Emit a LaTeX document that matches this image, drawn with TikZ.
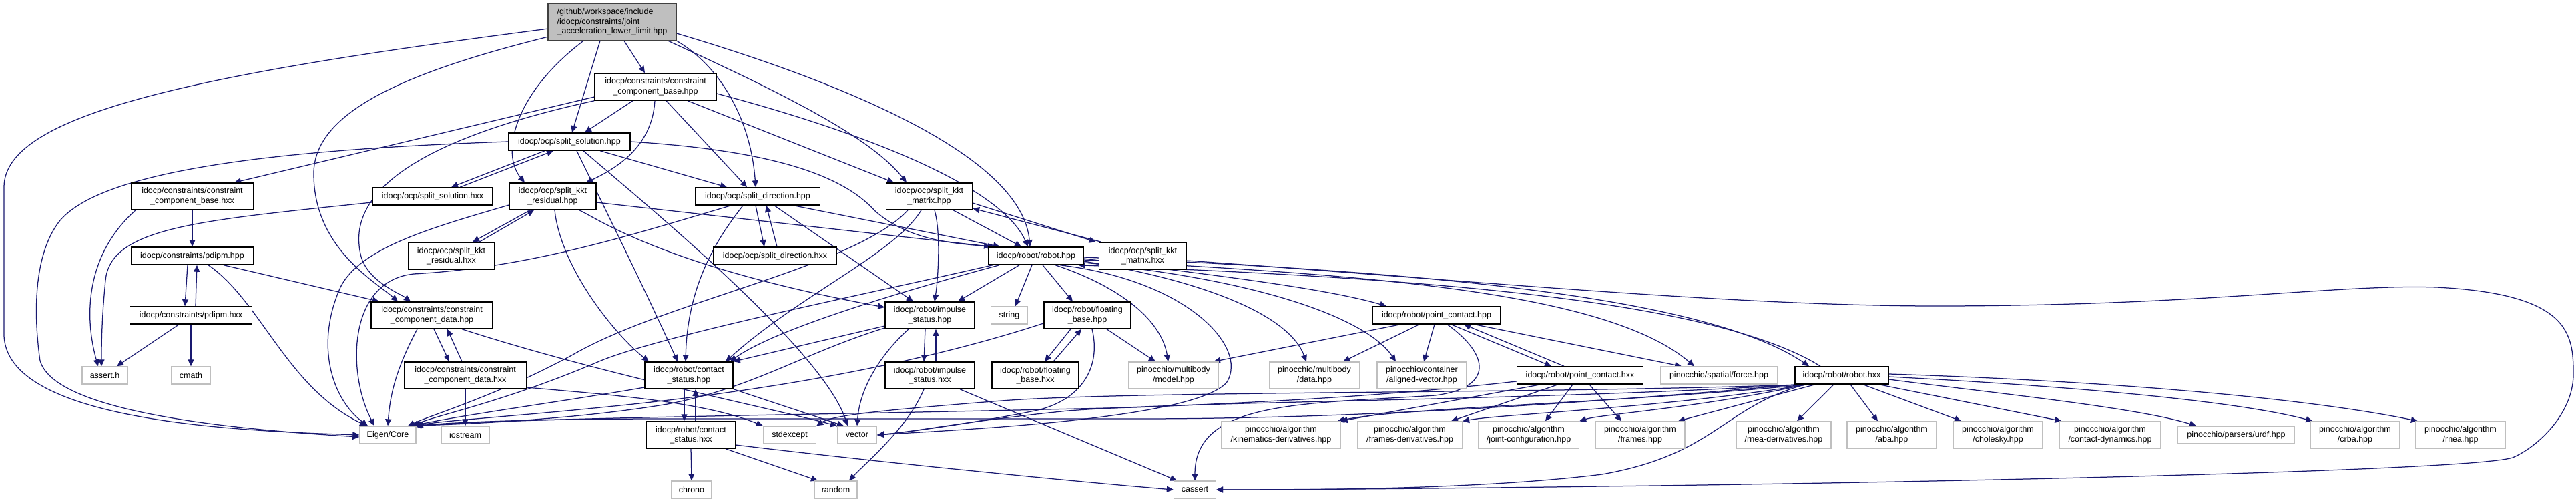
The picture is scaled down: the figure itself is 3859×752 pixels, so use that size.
\documentclass[tikz,border=0pt]{standalone}
\usepackage{fontspec}
\setmainfont{Liberation Sans}
\usetikzlibrary{arrows.meta}
\definecolor{edgeblue}{HTML}{191970}
\definecolor{extgray}{HTML}{BFBFBF}
\definecolor{rootfill}{HTML}{BFBFBF}
\definecolor{rootdraw}{HTML}{404040}
\pgfdeclarelayer{bg}
\pgfsetlayers{bg,main}
\newcommand{\nf}{\fontsize{12.5}{14.5}\selectfont}
\tikzset{
 base/.style={rectangle, inner sep=0pt, font=\nf, align=center},
 proj/.style={base, draw=black, fill=white, line width=1.5pt, minimum height=26pt},
 ext/.style={base, draw=extgray, fill=white, line width=1.3pt, minimum height=26pt},
 rootbox/.style={base, draw=rootdraw, fill=rootfill, line width=1.5pt, minimum height=55pt, align=left},
 two/.style={minimum height=40pt},
 e/.style={draw=edgeblue, line width=1.25pt, -{Triangle[length=10pt,width=9pt]}}
}
\begin{document}
\begin{tikzpicture}[x=1pt,y=-1pt]
\useasboundingbox (0,0) rectangle (3859,752);
% nodes
\node[rootbox, minimum width=192pt] (R) at (917,33) {/github/workspace/include\\/idocp/constraints/joint\\\_acceleration\_lower\_limit.hpp};
\node[proj,two,minimum width=182pt] (CBH) at (982,130) {idocp/constraints/constraint\\\_component\_base.hpp};
\node[proj,minimum width=182pt] (SSH) at (853,212) {idocp/ocp/split\_solution.hpp};
\node[proj,two,minimum width=183pt] (CBX) at (288,294) {idocp/constraints/constraint\\\_component\_base.hxx};
\node[proj,minimum width=180pt] (SSX) at (648,294) {idocp/ocp/split\_solution.hxx};
\node[proj,two,minimum width=130pt] (KRH) at (828,294) {idocp/ocp/split\_kkt\\\_residual.hpp};
\node[proj,minimum width=187pt] (SDH) at (1135,294) {idocp/ocp/split\_direction.hpp};
\node[proj,two,minimum width=129pt] (KMH) at (1392,294) {idocp/ocp/split\_kkt\\\_matrix.hpp};
\node[proj,two,minimum width=129pt] (KRX) at (676,383) {idocp/ocp/split\_kkt\\\_residual.hxx};
\node[proj,minimum width=184pt] (SDX) at (1161,383) {idocp/ocp/split\_direction.hxx};
\node[proj,minimum width=142pt] (RBH) at (1552,383) {idocp/robot/robot.hpp};
\node[proj,two,minimum width=131pt] (KMX) at (1712,383) {idocp/ocp/split\_kkt\\\_matrix.hxx};
\node[proj,minimum width=183pt] (PDH) at (288,383) {idocp/constraints/pdipm.hpp};
\node[proj,two,minimum width=182pt] (CDH) at (647,472) {idocp/constraints/constraint\\\_component\_data.hpp};
\node[proj,minimum width=183pt] (PDX) at (286,472) {idocp/constraints/pdipm.hxx};
\node[proj,two,minimum width=134pt] (ISH) at (1393,472) {idocp/robot/impulse\\\_status.hpp};
\node[ext,minimum width=55pt] (STR) at (1512,472) {string};
\node[proj,two,minimum width=130pt] (FBH) at (1629,472) {idocp/robot/floating\\\_base.hpp};
\node[proj,minimum width=192pt] (PCH) at (2152,472) {idocp/robot/point\_contact.hpp};
\node[ext,minimum width=68pt] (AST) at (157,562) {assert.h};
\node[ext,minimum width=59pt] (CMA) at (286,562) {cmath};
\node[proj,two,minimum width=183pt] (CDX) at (697,562) {idocp/constraints/constraint\\\_component\_data.hxx};
\node[proj,two,minimum width=132pt] (CSH) at (1032,562) {idocp/robot/contact\\\_status.hpp};
\node[proj,two,minimum width=134pt] (ISX) at (1393,562) {idocp/robot/impulse\\\_status.hxx};
\node[proj,two,minimum width=130pt] (FBX) at (1551,562) {idocp/robot/floating\\\_base.hxx};
\node[ext,two,minimum width=135pt] (MOD) at (1758,562) {pinocchio/multibody\\/model.hpp};
\node[ext,two,minimum width=135pt] (DAT) at (1969,562) {pinocchio/multibody\\/data.hpp};
\node[ext,two,minimum width=134pt] (ALV) at (2130,562) {pinocchio/container\\/aligned-vector.hpp};
\node[proj,minimum width=189pt] (PCX) at (2367,562) {idocp/robot/point\_contact.hxx};
\node[ext,minimum width=175pt] (FRC) at (2575,562) {pinocchio/spatial/force.hpp};
\node[proj,minimum width=140pt] (RBX) at (2759,562) {idocp/robot/robot.hxx};
\node[ext,minimum width=84pt] (EIG) at (581,651) {Eigen/Core};
\node[ext,minimum width=72pt] (IOS) at (697,651) {iostream};
\node[proj,two,minimum width=133pt] (CSX) at (1035,651) {idocp/robot/contact\\\_status.hxx};
\node[ext,minimum width=79pt] (SEX) at (1183,651) {stdexcept};
\node[ext,minimum width=59pt] (VEC) at (1284,651) {vector};
\node[ext,two,minimum width=178pt] (KIN) at (1919,651) {pinocchio/algorithm\\/kinematics-derivatives.hpp};
\node[ext,two,minimum width=157pt] (FRD) at (2112,651) {pinocchio/algorithm\\/frames-derivatives.hpp};
\node[ext,two,minimum width=151pt] (JCF) at (2290,651) {pinocchio/algorithm\\/joint-configuration.hpp};
\node[ext,two,minimum width=134pt] (FRM) at (2457,651) {pinocchio/algorithm\\/frames.hpp};
\node[ext,two,minimum width=142pt] (RND) at (2672,651) {pinocchio/algorithm\\/rnea-derivatives.hpp};
\node[ext,two,minimum width=134pt] (ABA) at (2834,651) {pinocchio/algorithm\\/aba.hpp};
\node[ext,two,minimum width=134pt] (CHO) at (2993,651) {pinocchio/algorithm\\/cholesky.hpp};
\node[ext,two,minimum width=152pt] (CDY) at (3161,651) {pinocchio/algorithm\\/contact-dynamics.hpp};
\node[ext,minimum width=175pt] (URD) at (3350,651) {pinocchio/parsers/urdf.hpp};
\node[ext,two,minimum width=134pt] (CRB) at (3528,651) {pinocchio/algorithm\\/crba.hpp};
\node[ext,two,minimum width=135pt] (RNE) at (3686,651) {pinocchio/algorithm\\/rnea.hpp};
\node[ext,minimum width=60pt] (CHR) at (1036,733) {chrono};
\node[ext,minimum width=64pt] (RAN) at (1252,733) {random};
\node[ext,minimum width=63pt] (CAS) at (1790,733) {cassert};

\begin{pgfonlayer}{bg}
% root
\draw[e] (R.186) .. controls (300,110) and (6,170) .. (6,280) -- (6,500) .. controls (6,630) and (350,645) .. (EIG.west);
\draw[e] (R.193) .. controls (600,110) and (470,170) .. (470,260) .. controls (470,370) and (560,420) .. ([xshift=-51pt]CDH.north);
\draw[e] ([xshift=-43pt]R.south) .. controls (770,140) and (750,230) .. ([xshift=-42pt]KRH.north);
\draw[e] ([xshift=-18pt]R.south) -- ([xshift=4pt]SSH.north);
\draw[e] ([xshift=18pt]R.south) -- ([xshift=-16pt]CBH.north);
\draw[e] ([xshift=84pt]R.south) .. controls (1150,130) and (1300,200) .. ([xshift=-34pt]KMH.north);
\draw[e] (R.south east) .. controls (1080,100) and (1125,180) .. ([xshift=-3pt]SDH.north);
\draw[e] (R.-10) .. controls (1250,120) and (1530,230) .. ([xshift=-9pt]RBH.north);
% CBH
\draw[e] ([yshift=-15pt]CBH.west) -- ([xshift=63pt]CBX.north);
\draw[e] (CBH.south west) .. controls (620,210) and (520,290) .. (540,380) .. controls (548,420) and (600,440) .. ([xshift=-32pt]CDH.north);
\draw[e] ([xshift=-34pt]CBH.south) -- ([xshift=23pt]SSH.north);
\draw[e] ([xshift=-1pt]CBH.south) .. controls (978,200) and (950,240) .. ([xshift=50pt]KRH.north);
\draw[e] ([xshift=16pt]CBH.south) -- ([xshift=-16pt]SDH.north);
\draw[e] ([xshift=48pt]CBH.south) -- ([xshift=-53pt]KMH.north);
\draw[e] ([yshift=-10pt]CBH.east) .. controls (1300,200) and (1500,280) .. ([xshift=-12pt]RBH.north);
% SSH
\draw[e] (SSH.west) .. controls (380,225) and (150,260) .. (90,330) .. controls (50,380) and (50,470) .. (60,540) .. controls (80,610) and (300,640) .. ([yshift=-3pt]EIG.west);
\draw[e] ([xshift=-37pt]SSH.south) -- ([xshift=28pt]SSX.north);
\draw[e] ([xshift=41pt]SSX.north) -- ([xshift=-24pt]SSH.south);
\draw[e] ([xshift=11pt]SSH.south) .. controls (900,300) and (960,420) .. ([xshift=-17pt]CSH.north);
\draw[e] ([xshift=21pt]SSH.south) .. controls (960,300) and (1230,520) .. ([xshift=-14pt]VEC.north);
\draw[e] ([xshift=46pt]SSH.south) -- ([xshift=-46pt]SDH.north);
\draw[e] (SSH.east) .. controls (1150,225) and (1260,260) .. (1310,315) .. controls (1360,360) and (1430,365) .. ([xshift=-62pt]RBH.north);
% CBX, SSX
\draw[e] (CBX.south) -- (PDH.north);
\draw[e] ([xshift=-85pt]CBX.south) .. controls (130,380) and (125,470) .. ([xshift=-10pt]AST.north);
\draw[e] ([yshift=-9pt]SSX.west) .. controls (300,330) and (165,340) .. (158,420) .. controls (152,480) and (152,520) .. ([xshift=-5pt]AST.north);
% KRH
\draw[e] ([xshift=-34pt]KRH.south) -- ([xshift=32pt]KRX.north);
\draw[e] ([xshift=42pt]KRX.north) -- ([xshift=-28pt]KRH.south);
\draw[e] ([yshift=-13pt]KRH.west) .. controls (650,340) and (540,370) .. (510,430) .. controls (470,520) and (500,600) .. ([xshift=-30pt]EIG.north);
\draw[e] ([xshift=3pt]KRH.south) .. controls (840,400) and (920,500) .. ([xshift=-60pt]CSH.north);
\draw[e] ([xshift=40pt]KRH.south) .. controls (900,330) and (1000,400) .. ([yshift=12pt]ISH.west);
\draw[e] ([yshift=-9pt]KRH.east) -- ([xshift=-68pt]RBH.north);
% SDH
\draw[e] ([xshift=-3pt]SDH.south) -- ([xshift=-16pt]SDX.north);
\draw[e] ([xshift=3pt]SDX.north) -- ([xshift=13pt]SDH.south);
\draw[e] ([xshift=-40pt]SDH.south) .. controls (950,350) and (800,400) .. (620,410) .. controls (520,420) and (520,560) .. ([xshift=-20pt]EIG.north);
\draw[e] ([xshift=-22pt]SDH.south) .. controls (1080,350) and (1030,420) .. ([xshift=-5pt]CSH.north);
\draw[e] ([xshift=25pt]SDH.south) -- ([xshift=-25pt]ISH.north);
\draw[e] ([xshift=54pt]SDH.south) -- ([xshift=-54pt]RBH.north);
% KMH, KMX
\draw[e] ([yshift=-10pt]KMH.east) -- ([xshift=-4pt]KMX.north west);
\draw[e] ([xshift=4pt]KMX.north west) -- ([yshift=-18pt]KMH.east);
\draw[e] ([xshift=-32pt]KMH.south) .. controls (1280,400) and (1000,450) .. (860,530) .. controls (750,590) and (650,620) .. ([xshift=30pt]EIG.north);
\draw[e] ([xshift=-12pt]KMH.south) .. controls (1340,380) and (1200,440) .. ([xshift=55pt]CSH.north);
\draw[e] ([xshift=8pt]KMH.south) .. controls (1410,350) and (1405,420) .. ([xshift=7pt]ISH.north);
\draw[e] ([xshift=36pt]KMH.south) -- ([xshift=-22pt]RBH.north);
\draw[e] ([yshift=-7pt]KMX.east) .. controls (2200,420) and (2600,458) .. (2900,458) .. controls (3300,458) and (3500,425) .. (3650,430) .. controls (3850,440) and (3855,500) .. (3855,560) .. controls (3855,620) and (3800,670) .. (3764,685) .. controls (3700,705) and (2900,722) .. (2400,728) .. controls (2100,732) and (1900,733) .. (CAS.east);
% RBH
\draw[e] ([xshift=-65pt]RBH.south) .. controls (1300,440) and (1000,500) .. (900,540) .. controls (760,600) and (660,620) .. ([xshift=36pt]EIG.north);
\draw[e] ([xshift=-55pt]RBH.south) .. controls (1300,450) and (1150,500) .. ([xshift=62pt]CSH.north);
\draw[e] ([xshift=-25pt]RBH.south) -- ([xshift=42pt]ISH.north);
\draw[e] ([xshift=-6pt]RBH.south) -- ([xshift=9pt]STR.north);
\draw[e] ([xshift=10pt]RBH.south) -- ([xshift=-22pt]FBH.north);
\draw[e] ([xshift=29pt]RBH.south) .. controls (1680,430) and (1740,480) .. ([xshift=-8pt]MOD.north);
\draw[e] ([xshift=36pt]RBH.south) .. controls (1780,420) and (1870,520) .. (1838,572) .. controls (1790,630) and (1400,645) .. (VEC.east);
\draw[e] ([yshift=-4pt]RBH.east) .. controls (1800,410) and (1980,430) .. ([xshift=-75pt]PCH.north);
\draw[e] ([yshift=-8pt]RBH.east) .. controls (1800,420) and (1930,470) .. ([xshift=-12pt]DAT.north);
\draw[e] ([yshift=-10pt]RBH.east) .. controls (1900,420) and (2050,480) .. ([xshift=-39pt]ALV.north);
\draw[e] ([yshift=-6pt]RBH.east) .. controls (2000,410) and (2400,430) .. ([xshift=-37pt]FRC.north);
\draw[e] ([yshift=-2pt]RBH.east) .. controls (2100,405) and (2550,440) .. ([xshift=-49pt]RBX.north);
\draw[e] ([xshift=-32pt]RBX.north) .. controls (2560,445) and (2100,415) .. ([xshift=-8pt]RBH.south east);
% FBH
\draw[e] ([xshift=-25pt]FBH.south) -- ([xshift=14pt]FBX.north);
\draw[e] ([xshift=27pt]FBX.north) -- ([xshift=-9pt]FBH.south);
\draw[e] ([xshift=29pt]FBH.south) -- ([xshift=-27pt]MOD.north);
\draw[e] ([xshift=7pt]FBH.south) .. controls (1650,550) and (1620,600) .. (1550,615) .. controls (1450,635) and (1350,648) .. (VEC.east);
\draw[e] ([yshift=-12pt]FBH.west) .. controls (1300,570) and (1000,600) .. (900,610) .. controls (750,625) and (660,630) .. (EIG.north east);
% ISH, ISX
\draw[e] ([xshift=-7pt]ISH.south) -- ([xshift=-9pt]ISX.north);
\draw[e] ([xshift=9pt]ISX.north) -- ([xshift=9pt]ISH.south);
\draw[e] ([yshift=-16pt]ISH.west) -- (CSH.north east);
\draw[e] ([yshift=-19pt]ISH.west) .. controls (1200,530) and (1130,580) .. (1000,605) .. controls (850,630) and (680,635) .. ([xshift=-3pt]EIG.north east);
\draw[e] ([xshift=-32pt]ISH.south) .. controls (1320,530) and (1288,580) .. (VEC.north);
\draw[e] ([xshift=-9pt]ISX.south) .. controls (1360,640) and (1300,690) .. ([xshift=20pt]RAN.north);
\draw[e] ([xshift=45pt]ISX.south) -- ([xshift=-27pt]CAS.north);
% CSH, CSX
\draw[e] ([xshift=-7pt]CSH.south) -- ([xshift=-10pt]CSX.north);
\draw[e] ([xshift=7pt]CSX.north) -- ([xshift=10pt]CSH.south);
\draw[e] ([yshift=-18pt]CSH.west) .. controls (850,600) and (700,620) .. ([xshift=-6pt]EIG.north east);
\draw[e] (CSH.south east) -- ([xshift=-20pt]VEC.north);
\draw[e] (CSX.south) -- (CHR.north);
\draw[e] ([xshift=52pt]CSX.south) -- ([xshift=-27pt]RAN.north);
\draw[e] ([yshift=-15pt]CSX.east) .. controls (1300,690) and (1600,720) .. (CAS.west);
% CDH, CDX
\draw[e] ([xshift=3pt]CDH.south) -- ([xshift=-24pt]CDX.north);
\draw[e] ([xshift=-5pt]CDX.north) -- ([xshift=23pt]CDH.south);
\draw[e] ([xshift=-22pt]CDH.south) .. controls (600,540) and (585,580) .. (EIG.north);
\draw[e] ([xshift=45pt]CDH.south) .. controls (900,560) and (1150,610) .. (VEC.north west);
\draw[e] (CDX.south) -- (IOS.north);
\draw[e] ([yshift=-18pt]CDX.east) .. controls (900,590) and (1050,600) .. (SEX.north west);
% PDH, PDX
\draw[e] ([xshift=-7pt]PDH.south) -- ([xshift=-9pt]PDX.north);
\draw[e] ([xshift=7pt]PDX.north) -- ([xshift=7pt]PDH.south);
\draw[e] ([xshift=47pt]PDH.south) -- ([xshift=-79pt]CDH.north);
\draw[e] ([xshift=24pt]PDH.south) .. controls (390,450) and (430,580) .. ([xshift=-32pt]EIG.north);
\draw[e] ([xshift=-18pt]PDX.south) -- ([xshift=18pt]AST.north);
\draw[e] (PDX.south) -- (CMA.north);
% PCH, PCX
\draw[e] ([xshift=-54pt]PCH.south) -- ([xshift=60pt]MOD.north);
\draw[e] ([xshift=-26pt]PCH.south) -- ([xshift=43pt]DAT.north);
\draw[e] ([xshift=-3pt]PCH.south) -- ([xshift=3pt]ALV.north);
\draw[e] ([xshift=22pt]PCH.south) -- ([xshift=-43pt]PCX.north);
\draw[e] ([xshift=-24pt]PCX.north) -- ([xshift=41pt]PCH.south);
\draw[e] ([xshift=57pt]PCH.south) -- ([xshift=-56pt]FRC.north);
\draw[e] ([xshift=16pt]PCH.south) .. controls (2230,530) and (2240,580) .. (2150,592) .. controls (1950,605) and (1790,600) .. (CAS.north);
\draw[e] ([xshift=-59pt]PCX.south) -- (KIN.north east);
\draw[e] ([xshift=-33pt]PCX.south) -- ([xshift=62pt]FRD.north);
\draw[e] ([xshift=-11pt]PCX.south) -- ([xshift=25pt]JCF.north);
\draw[e] ([xshift=14pt]PCX.south) -- ([xshift=-28pt]FRM.north);
\draw[e] ([yshift=-9pt]PCX.west) .. controls (2100,590) and (1950,600) .. (1700,610) .. controls (1200,622) and (800,625) .. ([xshift=-2pt]EIG.north east);
% RBX
\draw[e] ([xshift=-50pt]RBX.south) .. controls (2400,605) and (2100,610) .. ([xshift=-5pt]KIN.north east);
\draw[e] ([xshift=-52pt]RBX.south) .. controls (2500,610) and (2250,620) .. (FRD.north east);
\draw[e] ([xshift=-54pt]RBX.south) .. controls (2550,610) and (2400,620) .. (JCF.north east);
\draw[e] ([xshift=-40pt]RBX.south) -- ([xshift=57pt]FRM.north);
\draw[e] ([xshift=-12pt]RBX.south) -- ([xshift=20pt]RND.north);
\draw[e] ([xshift=13pt]RBX.south) -- ([xshift=-21pt]ABA.north);
\draw[e] ([xshift=32pt]RBX.south) -- ([xshift=-55pt]CHO.north);
\draw[e] ([xshift=56pt]RBX.south) -- ([xshift=4pt]CDY.north west);
\draw[e] ([yshift=-6pt]RBX.east) .. controls (3000,590) and (3200,610) .. ([xshift=-60pt]URD.north);
\draw[e] ([yshift=-2pt]RBX.east) .. controls (3100,578) and (3350,600) .. ([xshift=4pt]CRB.north west);
\draw[e] ([yshift=2pt]RBX.east) .. controls (3150,570) and (3450,595) .. ([xshift=4pt]RNE.north west);
\draw[e] ([xshift=-55pt]RBX.south) .. controls (2580,610) and (2570,680) .. (2400,710) .. controls (2200,735) and (1900,733) .. (CAS.east);
\draw[e] ([xshift=-58pt]RBX.south) .. controls (2300,590) and (1700,585) .. (1500,600) .. controls (1350,612) and (1250,620) .. (SEX.north east);
\draw[e] ([xshift=-62pt]RBX.south) .. controls (2300,600) and (1800,600) .. (1600,615) .. controls (1450,630) and (1380,645) .. (VEC.east);
\draw[e] ([xshift=-66pt]RBX.south) .. controls (2300,610) and (2000,627) .. (1700,627) -- (1000,627) .. controls (800,627) and (680,632) .. (EIG.north east);
\end{pgfonlayer}
\end{tikzpicture}
\end{document}
